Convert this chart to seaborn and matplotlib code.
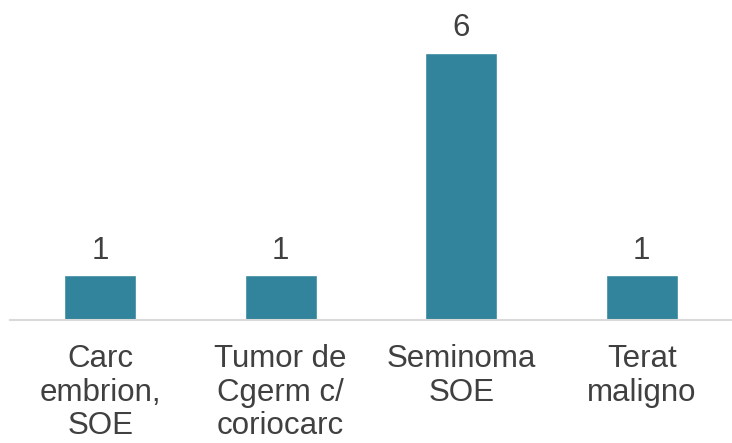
import matplotlib.pyplot as plt
import pandas as pd
import seaborn as sns

# Data
categories = ['Carc\nembrion,\nSOE', 'Tumor de\nCgerm c/\ncoriocarc', 'Seminoma\nSOE', 'Terat\nmaligno']
values = [1, 1, 6, 1]

df = pd.DataFrame({'cat': categories, 'value': values})

sns.set_style('white')
plt.rcParams['font.family'] = ['Liberation Sans', 'DejaVu Sans']

fig = plt.figure(figsize=(7.32, 4.43), dpi=100)
ax = fig.add_axes([10 / 732, 1 - 320 / 443, 1 - 10 / 732, 320 / 443])

sns.barplot(x='cat', y='value', data=df, color='#31849B', saturation=1, width=0.4, ax=ax)

for i, v in enumerate(values):
    ax.text(i, v + 0.22, str(v), ha='center', va='bottom', fontsize=22.5, color='#404040')

ax.set_ylim(0, 7.19)
ax.set_xlim(-0.5, 3.5)
ax.set_xlabel('')
ax.set_ylabel('')
ax.set_yticks([])
ax.tick_params(axis='x', length=0, pad=17, labelsize=22.5, labelcolor='#404040')
for lab in ax.get_xticklabels():
    lab.set_linespacing(1.17)

sns.despine(ax=ax, left=True, top=True, right=True)
ax.spines['bottom'].set_color('#d9d9d9')
ax.spines['bottom'].set_linewidth(1.5)

fig.savefig('out.png', dpi=100)
